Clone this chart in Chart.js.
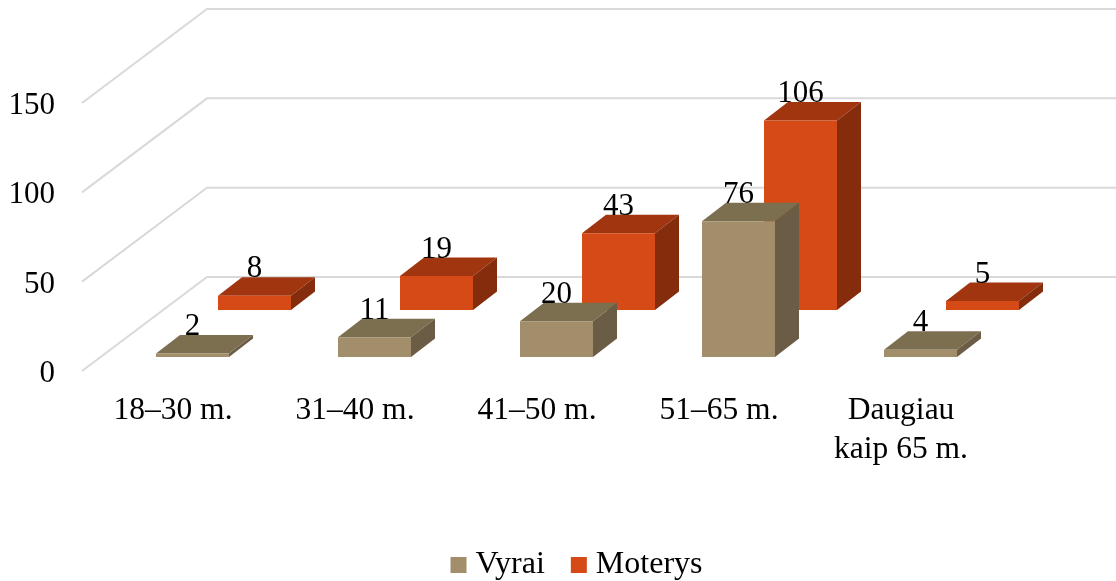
<!DOCTYPE html>
<html lang="lt">
<head>
<meta charset="utf-8">
<title>Vyrai ir moterys pagal amžių</title>
<script src="https://cdn.jsdelivr.net/npm/chart.js@4"></script>
<style>
  html, body { margin: 0; padding: 0; background: #fff; }
  canvas { display: block; }
</style>
</head>
<body>
<canvas id="chart" width="1116" height="581"></canvas>
<script>
const categories = ['18–30 m.', '31–40 m.', '41–50 m.', '51–65 m.', ['Daugiau', 'kaip 65 m.']];
const vyrai = [2, 11, 20, 76, 4];
const moterys = [8, 19, 43, 106, 5];
const yTicks = [0, 50, 100, 150];

const FONT = '"Liberation Serif", "Times New Roman", serif';
const FONT_SIZE = 31;

// side wall goes from the front edge of the plot to the back wall
const WALL = { dx: 125, dy: -94 };
// how far each bar extrudes
const DEPTH = { dx: 24, dy: -18.5 };

// draws the top and right face, then moves the canvas so the library draws the front face in its row
const bars3d = {
  id: 'bars3d',
  beforeDatasetDraw(chart, args) {
    const ds = chart.data.datasets[args.index];
    const ctx = chart.ctx;
    ctx.save();
    ctx.translate(ds.shift.dx, ds.shift.dy);
    args.meta.data.forEach((bar) => {
      const p = bar.getProps(['x', 'y', 'base', 'width'], true);
      const l = p.x - p.width / 2;
      const r = p.x + p.width / 2;
      ctx.fillStyle = ds.topColor;
      ctx.beginPath();
      ctx.moveTo(l, p.y);
      ctx.lineTo(l + DEPTH.dx, p.y + DEPTH.dy);
      ctx.lineTo(r + DEPTH.dx, p.y + DEPTH.dy);
      ctx.lineTo(r, p.y);
      ctx.closePath();
      ctx.fill();
      ctx.fillStyle = ds.sideColor;
      ctx.beginPath();
      ctx.moveTo(r, p.y);
      ctx.lineTo(r + DEPTH.dx, p.y + DEPTH.dy);
      ctx.lineTo(r + DEPTH.dx, p.base + DEPTH.dy);
      ctx.lineTo(r, p.base);
      ctx.closePath();
      ctx.fill();
    });
  },
  afterDatasetDraw(chart) {
    chart.ctx.restore();
  },
  beforeDatasetsDraw(chart) {
    const ctx = chart.ctx;
    const area = chart.chartArea;
    ctx.save();
    ctx.strokeStyle = '#d9d9d9';
    ctx.lineWidth = 2;
    chart.scales.y.ticks.forEach((t) => {
      const y = chart.scales.y.getPixelForValue(t.value);
      ctx.beginPath();
      ctx.moveTo(area.left, y);
      ctx.lineTo(area.left + WALL.dx, y + WALL.dy);
      ctx.lineTo(chart.width, y + WALL.dy);
      ctx.stroke();
    });
    ctx.restore();
  },
  afterDatasetsDraw(chart) {
    const ctx = chart.ctx;
    ctx.save();
    ctx.fillStyle = '#000';
    ctx.font = FONT_SIZE + 'px ' + FONT;
    ctx.textAlign = 'center';
    ctx.textBaseline = 'alphabetic';
    chart.data.datasets.forEach((ds, i) => {
      chart.getDatasetMeta(i).data.forEach((bar, j) => {
        const p = bar.getProps(['x', 'y'], true);
        ctx.fillText(ds.data[j], p.x + ds.shift.dx, p.y + ds.shift.dy + DEPTH.dy);
      });
    });
    ctx.restore();
  },
  afterLayout(chart) {
    // legend sits lower and further right than the library would centre it
    chart.legend.left += 84;
    chart.legend.right += 84;
    chart.legend.top += 10;
    chart.legend.bottom += 10;
    // y labels sit a bit lower than canvas "middle" baseline puts them
    const yScale = chart.scales.y;
    yScale.getLabelItems(chart.chartArea).forEach((item) => { item.options.translation[1] += 3; });
  }
};

new Chart(document.getElementById('chart'), {
  type: 'bar',
  data: {
    labels: categories,
    datasets: [
      {
        label: 'Vyrai',
        data: vyrai,
        backgroundColor: '#a38e6b',
        topColor: '#7c6f50',
        sideColor: '#6a5c45',
        shift: { dx: 56, dy: -14 },
        clip: false
      },
      {
        label: 'Moterys',
        data: moterys,
        backgroundColor: '#d54a16',
        topColor: '#a0350f',
        sideColor: '#842c0c',
        shift: { dx: 45, dy: -61 },
        clip: false
      }
    ]
  },
  options: {
    responsive: false,
    animation: false,
    categoryPercentage: 146 / 182,
    barPercentage: 1,
    layout: { padding: { top: 103, right: 124 } },
    scales: {
      x: {
        grid: { display: false },
        border: { display: false },
        afterFit(scale) { scale.height = 135; },
        ticks: {
          color: '#000',
          padding: 13,
          maxRotation: 0,
          autoSkip: false,
          font: { family: FONT, size: 31.5, lineHeight: 1.22 }
        }
      },
      y: {
        min: 0,
        max: 150,
        grid: { display: false },
        border: { display: false },
        afterFit(scale) { scale.width = 82; },
        afterBuildTicks(scale) { scale.ticks = yTicks.map((v) => ({ value: v })); },
        ticks: {
          color: '#000',
          padding: 19,
          font: { family: FONT, size: FONT_SIZE }
        }
      }
    },
    plugins: {
      tooltip: { enabled: false },
      legend: {
        position: 'bottom',
        labels: {
          usePointStyle: true,
          pointStyle: 'rect',
          boxWidth: 2,
          boxHeight: 16,
          padding: 33,
          color: '#000',
          font: { family: FONT, size: 32 }
        }
      }
    }
  },
  plugins: [bars3d]
});
</script>
</body>
</html>
